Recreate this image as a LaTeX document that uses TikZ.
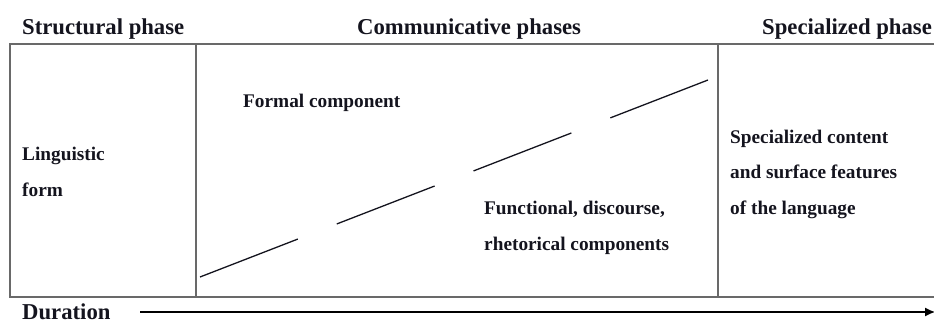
\documentclass[tikz,border=0pt]{standalone}
\usepackage{fontspec}
\setmainfont{Liberation Serif}
\usetikzlibrary{
	positioning,
	arrows.meta
}
\definecolor{FrameGray}{RGB}{105,105,105}
\definecolor{PhaseInk}{RGB}{20,20,30}
\tikzset{
	phasehead/.style={anchor=base west, inner sep=0pt, text=PhaseInk,
		font=\fontsize{22.7}{27}\selectfont\bfseries},
	cellnote/.style={anchor=base west, inner sep=0pt, text=PhaseInk, align=left,
		font=\fontsize{19.3}{35.5}\selectfont\bfseries},
	frameline/.style={draw=FrameGray, line width=1.4pt}
}

\begin{document}
\begin{tikzpicture}[x=1pt, y=-1pt]
				
				\useasboundingbox (0,0) rectangle (934,324);
				
				% phase headings
				\node[phasehead] (S) at (22,34) {Structural phase};
				\node[phasehead] (C) at (357,34) {Communicative phases};
				\node[phasehead] (P) at (762,34) {Specialized phase};
				
				% table frame
				\draw[frameline] (940,44) -- (10,44) -- (10,297) -- (940,297);
				\draw[frameline] (196,44) -- (196,297);
				\draw[frameline] (718,44) -- (718,297);
				
				% cell texts (placed at the baseline of the last line)
				\node[cellnote] (L) at (22,196) {Linguistic\\form};
				\node[cellnote] (F) at (243,107) {Formal component};
				\node[cellnote] (R) at (484,250) {Functional, discourse,\\rhetorical components};
				\node[cellnote] (K) at (730,214) {Specialized content\\and surface features\\of the language};
				
				% dividing line
				\coordinate (D1) at (200,277);
				\coordinate (D2) at (708,80);
				\draw[
				line width=1.3pt,
				PhaseInk,
				dash pattern=on 104.9pt off 41.8pt
				] (D1) -- (D2);
				
				% time axis
				\node[phasehead] (T) at (22,319.5) {Duration};
				\coordinate (A1) at (140,312);
				\coordinate (A2) at (935,312);
				\draw[
				-{Latex[length=10pt, width=9pt]},
				line width=1.2pt,
				black
				] (A1) -- (A2);
				
			\end{tikzpicture}
\end{document}
